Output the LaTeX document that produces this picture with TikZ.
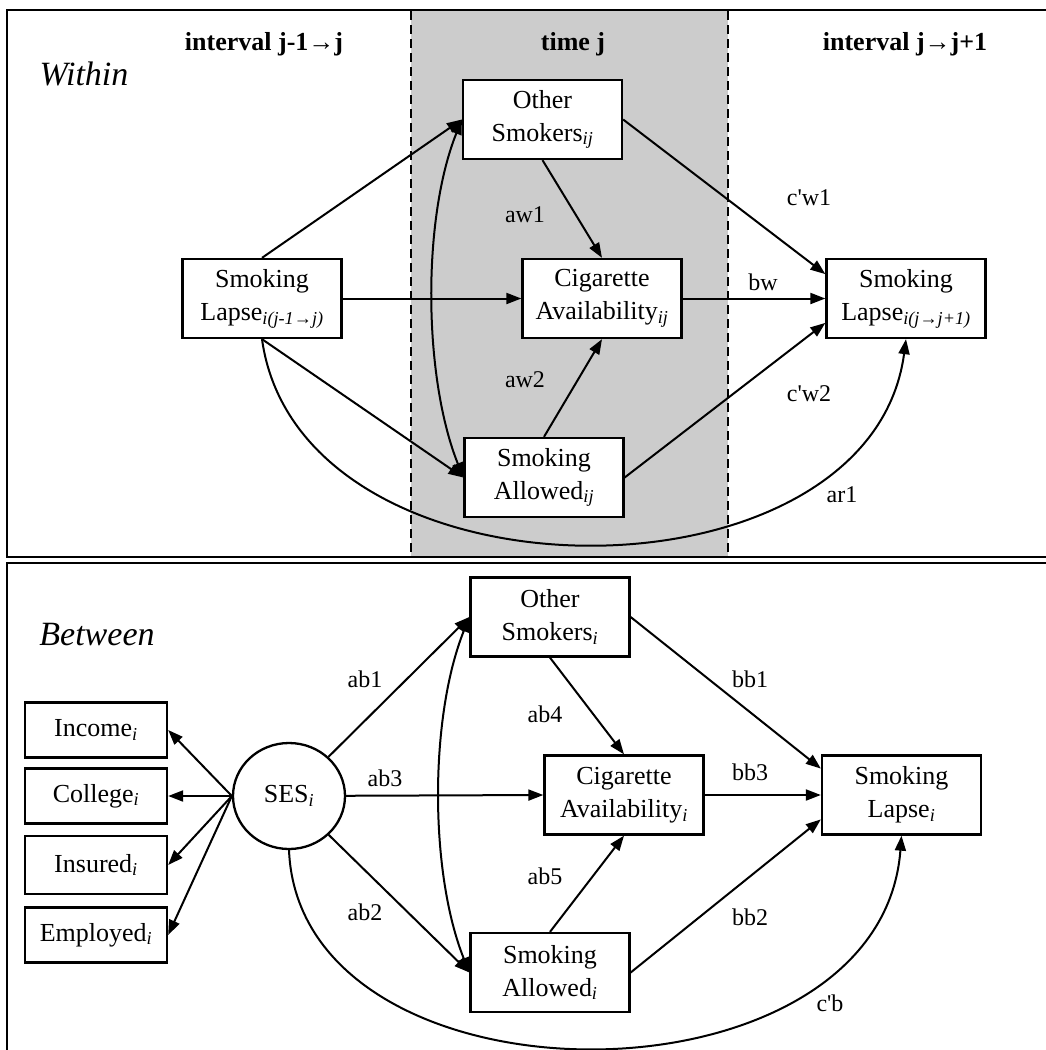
\documentclass[tikz,border=0pt]{standalone}
\usepackage{fontspec}
\setmainfont{Liberation Serif}
\usetikzlibrary{arrows.meta,calc,shapes.geometric}
\newcommand{\sub}[1]{\textsubscript{\itshape #1}}

\begin{document}
\begin{tikzpicture}[x=1pt,y=-1pt,
		box/.style={draw,line width=2.3pt,fill=white,minimum width=159pt,minimum height=79pt,inner sep=2pt,align=center,font=\fontsize{26}{33}\selectfont},
		ind/.style={box,minimum width=142pt,minimum height=55pt},
		arr/.style={line width=2pt,-{Triangle[length=15pt,width=11pt]}},
		dbl/.style={line width=2pt,{Triangle[length=15pt,width=11pt]}-{Triangle[length=15pt,width=11pt]}},
		lbl/.style={font=\fontsize{24}{28}\selectfont},
		hdr/.style={font=\bfseries\fontsize{26}{30}\selectfont},
		ttl/.style={font=\itshape\fontsize{34}{40}\selectfont}]
			\useasboundingbox (0,0) rectangle (1046,1050);
			\fill[black!20] (411,11) rectangle (728,556);
			\draw[line width=2.5pt,dash pattern=on 9pt off 5pt] (411,11) -- (411,556);
			\draw[line width=2.5pt,dash pattern=on 9pt off 5pt] (728,11) -- (728,556);
			\draw[line width=2.5pt] (1050,10) -- (7,10) -- (7,557) -- (1050,557);
			\draw[line width=2.5pt] (1050,563) -- (7,563) -- (7,1052);
			\node[ttl] (within) at (84,74) {Within};
			\node[hdr] (h1) at (264,44) {interval j-1→j};
			\node[hdr] (h2) at (573,44) {time j};
			\node[hdr] (h3) at (905,44) {interval j→j+1};
			\node[box] (os1) at (542.5,119.5) {Other\\Smokers\sub{ij}};
			\node[box] (sl0) at (262,298.5) {Smoking\\Lapse\sub{i(j-1→j)}};
			\node[box] (ca1) at (602,298.5) {Cigarette\\Availability\sub{ij}};
			\node[box] (sl1) at (906,298.5) {Smoking\\Lapse\sub{i(j→j+1)}};
			\node[box] (sa1) at (544,477.5) {Smoking\\Allowed\sub{ij}};
			\draw[arr] (sl0.north) -- (os1.west);
			\draw[arr] (sl0.east) -- (ca1.west);
			\draw[arr] (sl0.south) -- (sa1.west);
			\draw[arr] (os1.south) -- (ca1.north);
			\draw[arr] (sa1.north) -- (ca1.south);
			\draw[arr] (os1.east) -- ($(sl1.north west)!0.4!(sl1.west)$);
			\draw[arr] (ca1.east) -- (sl1.west);
			\draw[arr] (sa1.east) -- ($(sl1.south west)!0.4!(sl1.west)$);
			\draw[dbl] (os1.west) .. controls +(-40,100) and +(-40,-100) .. (sa1.west);
			\draw[arr] (sl0.south) .. controls +(38,273) and +(-36,273) .. (sl1.south);
			\node[lbl] (aw1) at (525,215) {aw1};
			\node[lbl] (aw2) at (525,380) {aw2};
			\node[lbl] (cw1) at (809,198) {c\textquotesingle w1};
			\node[lbl] (cw2) at (809,394) {c\textquotesingle w2};
			\node[lbl] (bw) at (763,282) {bw};
			\node[lbl] (ar1) at (842,495) {ar1};
			\node[ttl] (between) at (97,635) {Between};
			\node[box] (os2) at (550,617) {Other\\Smokers\sub{i}};
			\node[box] (ca2) at (624,795) {Cigarette\\Availability\sub{i}};
			\node[box] (sl2) at (901.5,795) {Smoking\\Lapse\sub{i}};
			\node[box] (sa2) at (550,972.5) {Smoking\\Allowed\sub{i}};
			\node[draw,line width=2.3pt,ellipse,minimum width=112pt,minimum height=106pt,inner sep=0pt,font=\fontsize{26}{33}\selectfont] (ses) at (289,796) {SES\sub{i}};
			\node[ind] (inc) at (96,730) {Income\sub{i}};
			\node[ind] (col) at (96,796) {College\sub{i}};
			\node[ind,minimum height=58pt] (ins) at (96,865) {Insured\sub{i}};
			\node[ind] (emp) at (96,935) {Employed\sub{i}};
			\draw[arr] (ses.west) -- (inc.east);
			\draw[arr] (ses.west) -- (col.east);
			\draw[arr] (ses.west) -- (ins.east);
			\draw[arr] (ses.west) -- (emp.east);
			\draw[arr] (ses) -- (os2.west);
			\draw[arr] (ses) -- (ca2.west);
			\draw[arr] (ses) -- (sa2.west);
			\draw[arr] (os2.south) -- (ca2.north);
			\draw[arr] (sa2.north) -- (ca2.south);
			\draw[arr] (os2.east) -- ($(sl2.north west)!0.35!(sl2.west)$);
			\draw[arr] (ca2.east) -- (sl2.west);
			\draw[arr] (sa2.east) -- ($(sl2.south west)!0.4!(sl2.west)$);
			\draw[dbl] (os2.west) .. controls +(-40,100) and +(-40,-100) .. (sa2.west);
			\draw[arr] (ses.south) .. controls +(11,266) and +(-21,280) .. (sl2.south);
			\node[lbl] (ab1) at (365,679) {ab1};
			\node[lbl] (ab3) at (385,778) {ab3};
			\node[lbl] (ab2) at (365,912) {ab2};
			\node[lbl] (ab4) at (545,714) {ab4};
			\node[lbl] (ab5) at (545,876) {ab5};
			\node[lbl] (bb1) at (750,679) {bb1};
			\node[lbl] (bb3) at (750,772) {bb3};
			\node[lbl] (bb2) at (750,917) {bb2};
			\node[lbl] (cb) at (830,1003) {c\textquotesingle b};
		\end{tikzpicture}
\end{document}
